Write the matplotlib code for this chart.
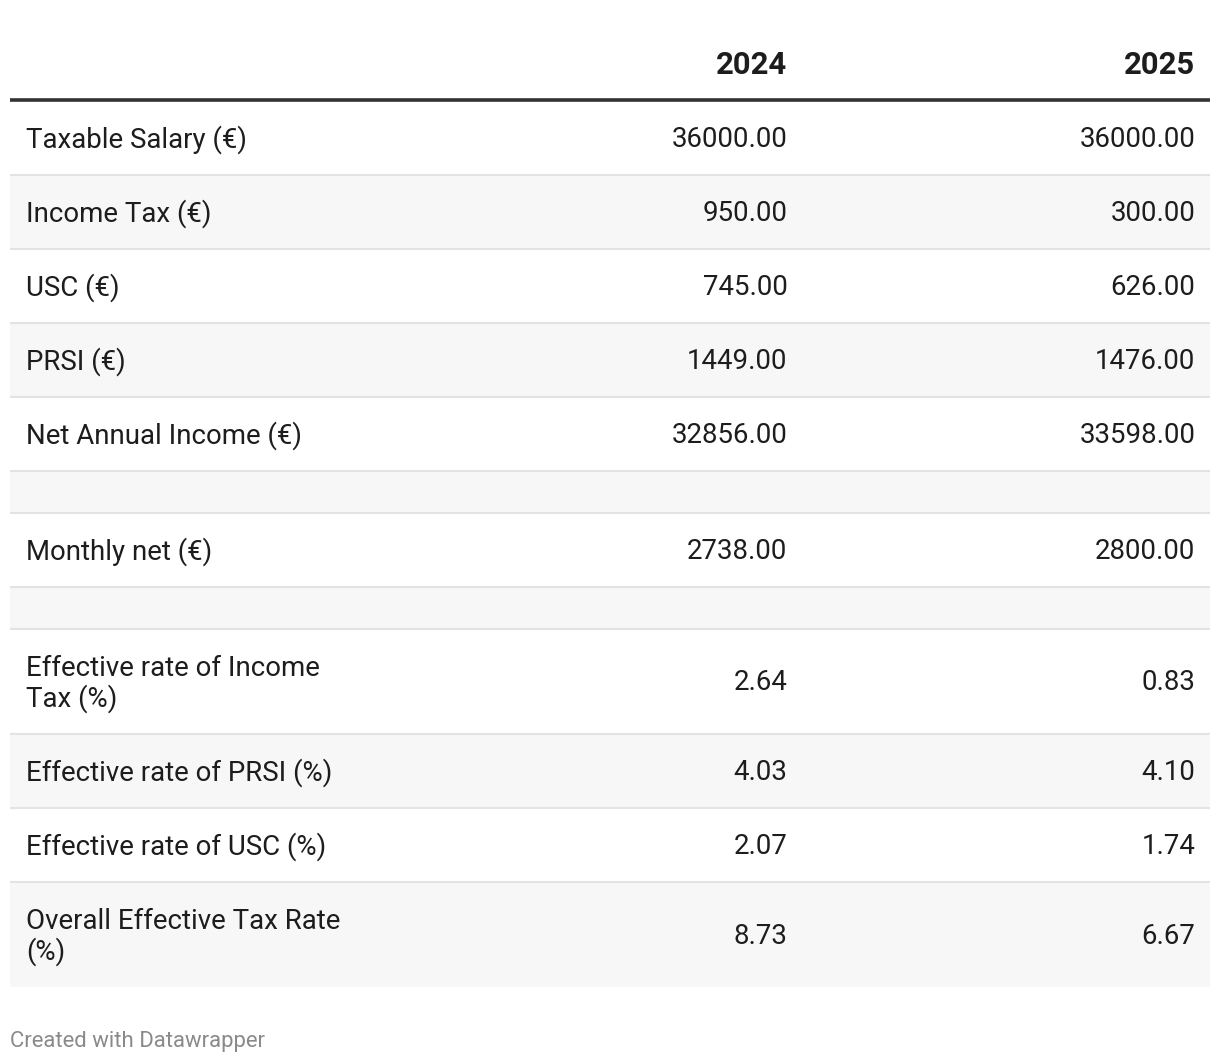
import matplotlib
matplotlib.use("Agg")
import matplotlib.pyplot as plt
from matplotlib.patches import Rectangle

plt.rcParams['font.family'] = ['Roboto', 'DejaVu Sans']

columns = ["2024", "2025"]
row_labels = [
    "Taxable Salary (€)",
    "Income Tax (€)",
    "USC (€)",
    "PRSI (€)",
    "Net Annual Income (€)",
    "",
    "Monthly net (€)",
    "",
    "Effective rate of Income\nTax (%)",
    "Effective rate of PRSI (%)",
    "Effective rate of USC (%)",
    "Overall Effective Tax Rate\n(%)",
]
values_2024 = [36000.00, 950.00, 745.00, 1449.00, 32856.00, None, 2738.00, None,
               2.64, 4.03, 2.07, 8.73]
values_2025 = [36000.00, 300.00, 626.00, 1476.00, 33598.00, None, 2800.00, None,
               0.83, 4.10, 1.74, 6.67]
footer = "Created with Datawrapper"

W, H = 1220, 1064
fig = plt.figure(figsize=(W / 100, H / 100), dpi=100)
ax = fig.add_axes([0, 0, 1, 1])
ax.set_xlim(0, W)
ax.set_ylim(H, 0)
ax.axis('off')

left, right = 10, 1210
label_x = 26
col_right = [787.5, 1195.5]
text_color = "#1d1d1d"
fs = 19.9

# header
for c, x in zip(columns, col_right):
    ax.text(x - 0.5, 65, c, ha='right', va='center', fontsize=22.3, fontweight='bold',
            color=text_color)
ax.plot([left, right], [100, 100], color="#333333", lw=2.6, solid_capstyle='butt')

y = 101
for i, lab in enumerate(row_labels):
    if lab == "":
        h = 42
    elif "\n" in lab:
        h = 105
    else:
        h = 74
    bg = "#ffffff" if i % 2 == 0 else "#f7f7f7"
    ax.add_patch(Rectangle((left, y), right - left, h, facecolor=bg, edgecolor='none'))
    if i < len(row_labels) - 1:
        ax.plot([left, right], [y + h, y + h], color="#e3e3e3", lw=1.5,
                solid_capstyle='butt')
    cy = y + h / 2 + 1.5
    if lab:
        ax.text(label_x, cy + (1 if "\n" in lab else 0), lab, ha='left', va='center',
                fontsize=fs, color=text_color, linespacing=1.08)
    for vals, x in zip((values_2024, values_2025), col_right):
        v = vals[i]
        if v is not None:
            ax.text(x, cy, f"{v:.2f}", ha='right', va='center', fontsize=fs,
                    color=text_color)
    y += h

ax.text(10, 1041, footer, ha='left', va='center', fontsize=15.9, color="#8a8a8a")

fig.savefig("out.png", dpi=100, facecolor='white')
